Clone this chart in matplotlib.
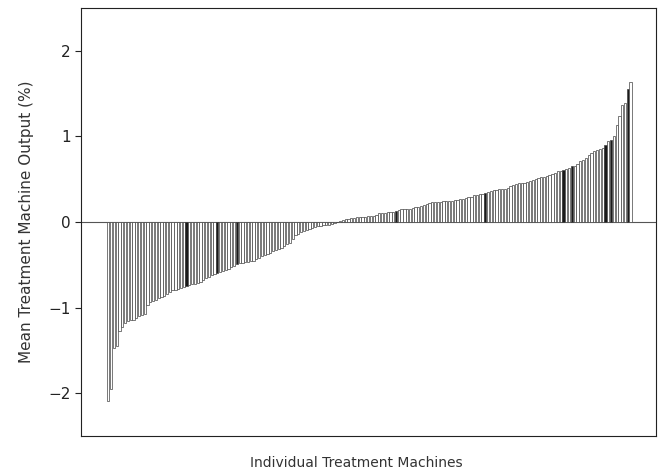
import numpy as np
import matplotlib
matplotlib.use('Agg')
import matplotlib.pyplot as plt

# mean output deviation per machine (%), sorted ascending
output_pct = [
    -2.09, -1.95, -1.47, -1.45, -1.27, -1.23, -1.18, -1.16, -1.15, -1.14,
    -1.12, -1.10, -1.09, -1.08, -0.97, -0.94, -0.92, -0.91, -0.89, -0.88,
    -0.86, -0.84, -0.82, -0.80, -0.79, -0.78, -0.77, -0.76, -0.75, -0.74,
    -0.73, -0.72, -0.71, -0.70, -0.68, -0.66, -0.64, -0.62, -0.61, -0.60,
    -0.58, -0.57, -0.56, -0.55, -0.53, -0.51, -0.49, -0.48, -0.48, -0.47,
    -0.47, -0.46, -0.45, -0.43, -0.42, -0.40, -0.39, -0.37, -0.36, -0.34,
    -0.33, -0.31, -0.30, -0.28, -0.26, -0.24, -0.20, -0.15, -0.14, -0.12,
    -0.10, -0.09, -0.08, -0.07, -0.06, -0.05, -0.05, -0.04, -0.03, -0.03,
    -0.02, -0.01, -0.005, 0.01, 0.02, 0.03, 0.04, 0.05, 0.05, 0.06,
    0.06, 0.06, 0.06, 0.07, 0.07, 0.07, 0.08, 0.10, 0.11, 0.11,
    0.12, 0.12, 0.12, 0.13, 0.14, 0.15, 0.15, 0.15, 0.15, 0.16,
    0.17, 0.18, 0.19, 0.20, 0.21, 0.22, 0.23, 0.23, 0.23, 0.23,
    0.24, 0.24, 0.25, 0.25, 0.26, 0.26, 0.27, 0.27, 0.28, 0.29,
    0.29, 0.31, 0.32, 0.33, 0.33, 0.34, 0.35, 0.36, 0.37, 0.37,
    0.38, 0.38, 0.39, 0.40, 0.42, 0.43, 0.44, 0.45, 0.46, 0.46,
    0.47, 0.48, 0.49, 0.50, 0.51, 0.52, 0.53, 0.54, 0.55, 0.56,
    0.57, 0.59, 0.60, 0.61, 0.62, 0.63, 0.65, 0.66, 0.68, 0.71,
    0.73, 0.75, 0.78, 0.81, 0.83, 0.84, 0.85, 0.87, 0.90, 0.95,
    0.96, 1.00, 1.13, 1.24, 1.37, 1.39, 1.55, 1.64,
]
# machines highlighted in black (index in sorted order)
highlighted = [28, 39, 46, 103, 135, 163, 166, 178, 180, 186]

x = np.arange(len(output_pct))
colors = ['#1a1a1a' if i in highlighted else 'white' for i in x]

fig = plt.figure(figsize=(6.66, 4.71), dpi=100)
ax = fig.add_axes([81/666, 35/471, 575/666, 428/471])
ax.bar(x, output_pct, width=0.8, color=colors, edgecolor='#444444', linewidth=0.5)
ax.axhline(0, color='#555555', linewidth=0.8, zorder=0)

ax.set_xlim(-9.8, 196.1)
ax.set_ylim(-2.5, 2.5)
ax.set_yticks([-2, -1, 0, 1, 2])
ax.set_xticks([])
ax.tick_params(axis='y', labelsize=11, length=4, width=0.8, colors='#222222')
for s in ax.spines.values():
    s.set_linewidth(0.8)
    s.set_color('#222222')

ax.set_ylabel('Mean Treatment Machine Output (%)', fontsize=11, labelpad=10, color='#333333')
ax.set_xlabel('Individual Treatment Machines', fontsize=10, color='#333333')
ax.xaxis.set_label_coords(0.478, -0.047)

fig.savefig('out.png', dpi=100)
